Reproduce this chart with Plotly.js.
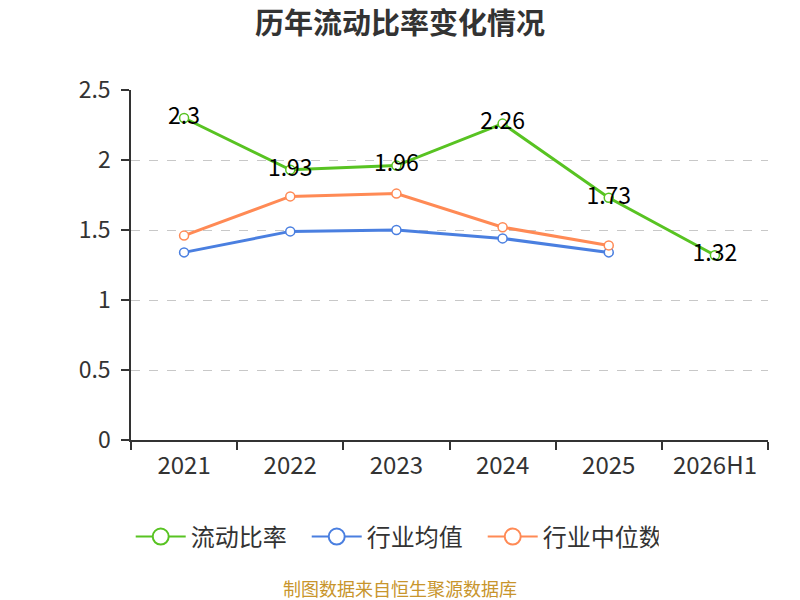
<!DOCTYPE html>
<html>
<head>
<meta charset="utf-8">
<script src="https://cdn.plot.ly/plotly-3.0.1.min.js"></script>
<style>body{margin:0;background:#fff}#chart{width:800px;height:600px}</style>
</head>
<body>
<div id="chart"></div>
<script>
// 年份
var years = ['2021', '2022', '2023', '2024', '2025', '2026H1'];
// 流动比率
var ratio = [2.3, 1.93, 1.96, 2.26, 1.73, 1.32];
// 行业均值
var industryAvg = [1.34, 1.49, 1.50, 1.44, 1.34];
// 行业中位数
var industryMedian = [1.46, 1.74, 1.76, 1.52, 1.39];

var font = '"Noto Sans CJK SC", "Noto Sans", sans-serif';
var names = ['流动比率', '行业均值', '行业中位数'];
var colors = ['#58c322', '#4a7fe0', '#ff8a55'];

function series(i, y, withText) {
  var t = {
    x: years.slice(0, y.length),
    y: y,
    name: names[i],
    type: 'scatter',
    mode: withText ? 'lines+markers+text' : 'lines+markers',
    line: {color: colors[i], width: 3},
    marker: {symbol: 'circle', size: 9, color: '#fff', line: {color: colors[i], width: 1.5}},
    cliponaxis: false,
    showlegend: false
  };
  if (withText) {
    t.text = y.map(String);
    t.textposition = 'middle center';
    t.textfont = {family: font, size: 23, color: '#000'};
  }
  return t;
}

// legend-only entries with larger symbols
function legendItem(i) {
  return {
    x: [null], y: [null], name: names[i], type: 'scatter', mode: 'lines+markers',
    line: {color: colors[i], width: 2},
    marker: {symbol: 'circle', size: 20, color: '#fff', line: {color: colors[i], width: 2}},
    showlegend: true
  };
}

var data = [
  series(0, ratio, true),
  series(1, industryAvg, false),
  series(2, industryMedian, false),
  legendItem(0), legendItem(1), legendItem(2)
];

var layout = {
  width: 800,
  height: 600,
  margin: {l: 131, r: 32, t: 90, b: 160, autoexpand: false},
  paper_bgcolor: '#fff',
  plot_bgcolor: '#fff',
  font: {family: font, color: '#333'},
  title: {text: '<b>历年流动比率变化情况</b>', x: 0.5, y: 0.96, yanchor: 'middle',
          font: {family: font, size: 29, color: '#333'}},
  xaxis: {
    type: 'category', range: [-0.5, 5.5], autorange: false,
    showline: true, linecolor: '#333', linewidth: 1.5,
    ticks: 'outside', tickson: 'boundaries', ticklen: 8, tickcolor: '#333', tickwidth: 1.5,
    showgrid: false,
    tickfont: {size: 24, color: '#333'},
    tickangle: 0,
    ticklabelstandoff: 3
  },
  yaxis: {
    range: [0, 2.5], dtick: 0.5,
    showline: true, linecolor: '#333', linewidth: 1.5,
    ticks: 'outside', ticklen: 8, tickcolor: '#333', tickwidth: 1.5,
    showgrid: true, gridcolor: '#c8c8c8', griddash: 'dash', gridwidth: 1,
    zeroline: false,
    tickfont: {size: 23, color: '#333'},
    ticklabelstandoff: 6
  },
  showlegend: true,
  legend: {
    orientation: 'h', x: 0.414, xanchor: 'center', y: -0.277, yanchor: 'middle',
    font: {size: 24, color: '#333'}, itemwidth: 50,
    entrywidth: 111, entrywidthmode: 'pixels'
  },
  annotations: [{
    text: '制图数据来自恒生聚源数据库', xref: 'paper', yref: 'paper',
    x: 0.4223, y: -0.423, xanchor: 'center', yanchor: 'middle', showarrow: false,
    font: {family: font, size: 18, color: '#c8952c'}
  }]
};

Plotly.newPlot('chart', data, layout, {displayModeBar: false});
</script>
</body>
</html>
